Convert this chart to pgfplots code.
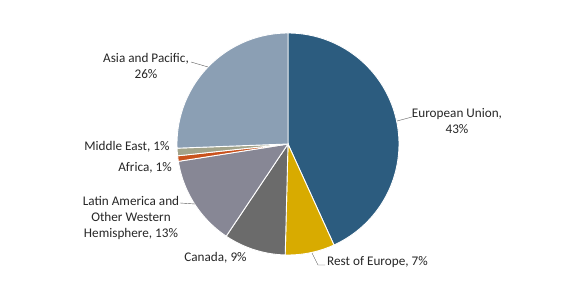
\documentclass[border=0pt]{standalone}
\usepackage{pgfplots}
\pgfplotsset{compat=1.18}
\usepackage{fontspec}
\setmainfont{Carlito}
\definecolor{cEU}{HTML}{2C5C7F}
\definecolor{cRE}{HTML}{D8AB00}
\definecolor{cCA}{HTML}{6B6B6B}
\definecolor{cLA}{HTML}{878795}
\definecolor{cAF}{HTML}{C9521D}
\definecolor{cME}{HTML}{A2A38A}
\definecolor{cAP}{HTML}{8B9FB4}
\definecolor{lead}{HTML}{595959}
\tikzset{lbl/.style={font=\fontsize{13.2}{16}\selectfont, text=black!85, align=center, inner sep=0pt}}
% slice: start cumulative %, end cumulative %, colour
\newcommand\slice[3]{%
  \addplot[fill=#3, draw=white, line width=0.9pt, domain={90-3.6*#2}:{90-3.6*#1}, samples=80]
    ({288+111*cos(x)},{144+111*sin(x)}) -- (axis cs:288,144) -- cycle;}
\begin{document}
\begin{tikzpicture}
\begin{axis}[
  width=576pt, height=288pt, scale only axis,
  xmin=0, xmax=576, ymin=0, ymax=288,
  hide axis, clip=false,
]
% shares (%): EU 43.2, Rest of Europe 7.2, Canada 9.0, Latin America 13.1, Africa 0.8, Middle East 1.1, Asia 25.6
\slice{0}{43.2}{cEU}
\slice{43.2}{50.4}{cRE}
\slice{50.4}{59.4}{cCA}
\slice{59.4}{72.5}{cLA}
\slice{72.5}{73.3}{cAF}
\slice{73.3}{74.4}{cME}
\slice{74.4}{100}{cAP}
% leader lines
\addplot[lead, thin] coordinates {(397,167) (412,171)};
\addplot[lead, thin] coordinates {(312,35) (318,23) (325,23)};
\addplot[lead, thin] coordinates {(180,85) (195,84)};
\addplot[lead, thin] coordinates {(191,226) (208,221)};
% labels
\node[lbl] at (axis cs:457,167) {European Union,\\43\%};
\node[lbl, anchor=west] at (axis cs:327,26) {Rest of Europe, 7\%};
\node[lbl] at (axis cs:215.5,30) {Canada, 9\%};
\node[lbl] at (axis cs:131,70.5) {Latin America and\\Other Western\\Hemisphere, 13\%};
\node[lbl] at (axis cs:145,120) {Africa, 1\%};
\node[lbl] at (axis cs:127,141) {Middle East, 1\%};
\node[lbl] at (axis cs:146,222) {Asia and Pacific,\\26\%};
\end{axis}
\pgfresetboundingbox
\path (current axis.south west) rectangle (current axis.north east);
\end{tikzpicture}
\end{document}
